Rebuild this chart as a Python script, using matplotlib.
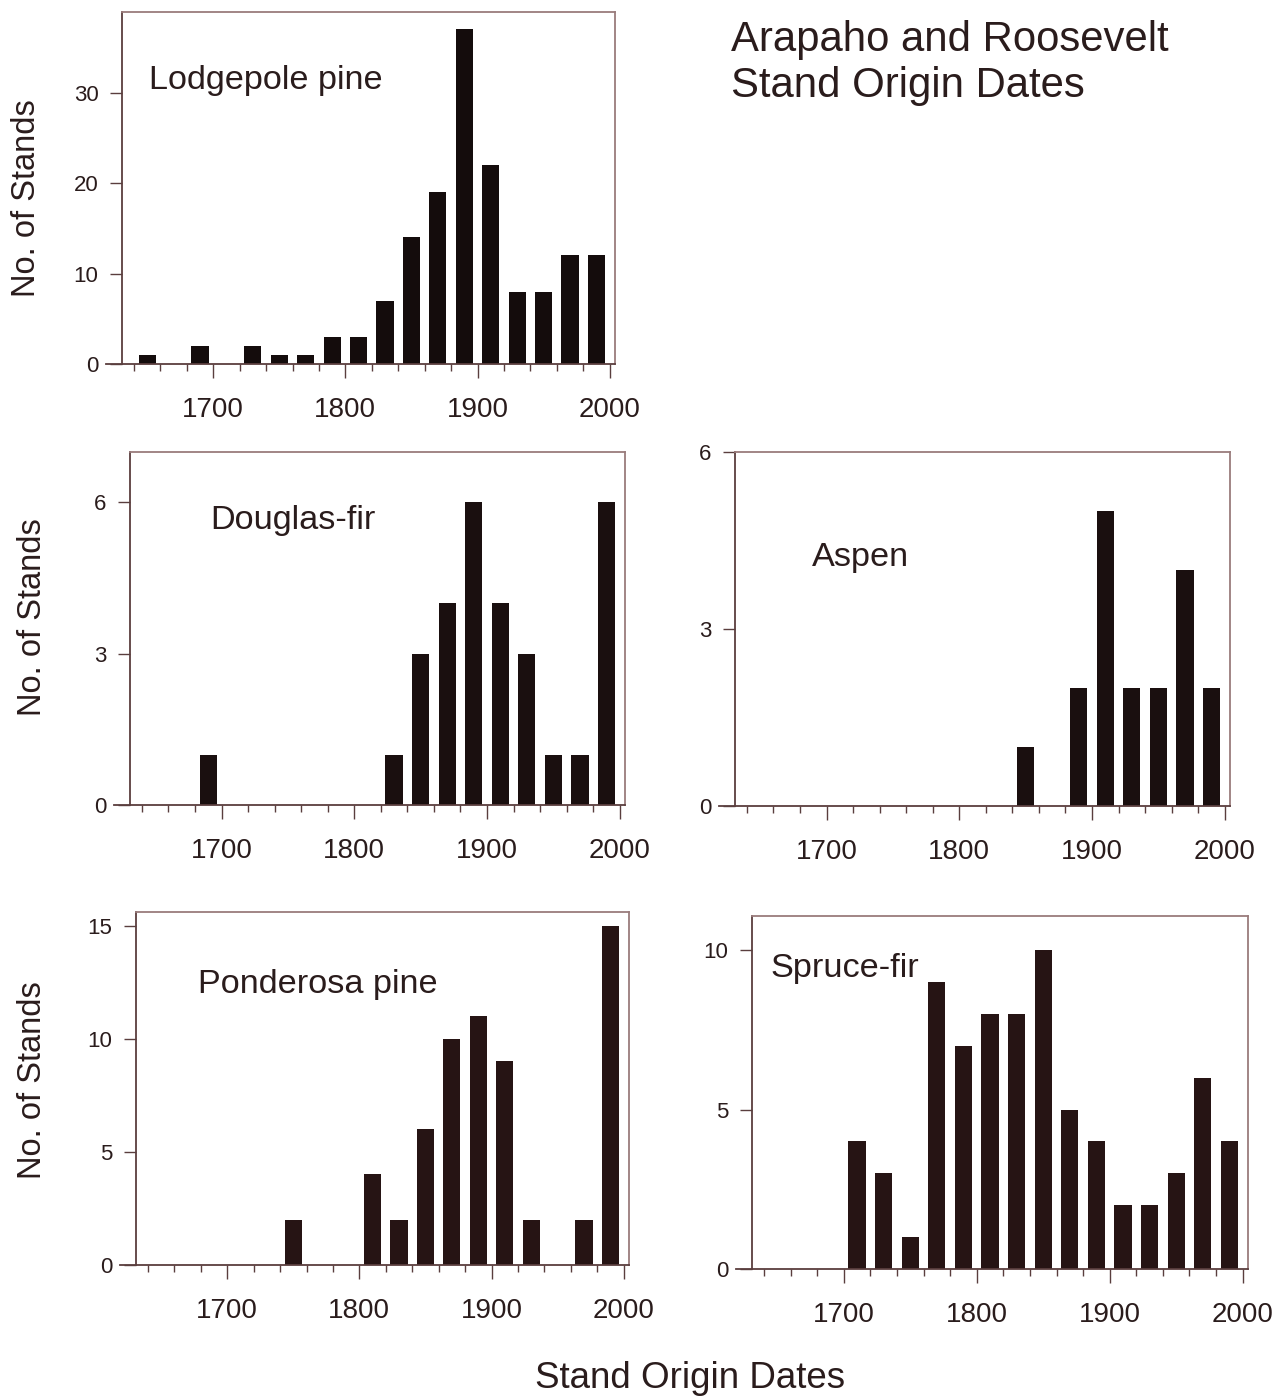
import matplotlib
matplotlib.use('Agg')
import matplotlib.pyplot as plt
from matplotlib.ticker import MultipleLocator

plt.rcParams['font.family'] = ['Liberation Sans', 'DejaVu Sans']

# bin centres (20-year classes) and counts for each forest type
lodgepole_years = [1650, 1690, 1730, 1750, 1770, 1790, 1810, 1830, 1850, 1870, 1890, 1910, 1930, 1950, 1970, 1990]
lodgepole_counts = [1, 2, 2, 1, 1, 3, 3, 7, 14, 19, 37, 22, 8, 8, 12, 12]

douglas_years = [1690, 1830, 1850, 1870, 1890, 1910, 1930, 1950, 1970, 1990]
douglas_counts = [1, 1, 3, 4, 6, 4, 3, 1, 1, 6]

aspen_years = [1850, 1890, 1910, 1930, 1950, 1970, 1990]
aspen_counts = [1, 2, 5, 2, 2, 4, 2]

ponderosa_years = [1750, 1810, 1830, 1850, 1870, 1890, 1910, 1930, 1970, 1990]
ponderosa_counts = [2, 4, 2, 6, 10, 11, 9, 2, 2, 15]

spruce_years = [1710, 1730, 1750, 1770, 1790, 1810, 1830, 1850, 1870, 1890, 1910, 1930, 1950, 1970, 1990]
spruce_counts = [4, 3, 1, 9, 7, 8, 8, 10, 5, 4, 2, 2, 3, 6, 4]

W, H = 1282, 1399
TXT = '#2a1c1c'
DARK = '#5a3e3e'
LIGHT = '#9a7c7c'

fig = plt.figure(figsize=(W / 100, H / 100), dpi=100)


def px_axes(left, right, top, bottom):
    return fig.add_axes([left / W, 1 - bottom / H, (right - left) / W, (bottom - top) / H])


def panel(ax, years, counts, ymax, ystep, color):
    ax.bar(years, counts, width=13, color=color, edgecolor='none')
    ax.set_xlim(1631, 2004)
    ax.set_ylim(0, ymax)
    ax.xaxis.set_major_locator(MultipleLocator(100))
    ax.xaxis.set_minor_locator(MultipleLocator(20))
    ax.yaxis.set_major_locator(MultipleLocator(ystep))
    ax.set_xticks([1700, 1800, 1900, 2000])
    ax.tick_params(axis='x', which='major', length=10, width=1, color=DARK,
                   labelsize=20, labelcolor=TXT, pad=14)
    ax.tick_params(axis='x', which='minor', length=5, width=1, color=DARK)
    ax.tick_params(axis='y', which='major', length=9, width=1, color=DARK,
                   labelsize=16, labelcolor=TXT, pad=8)
    for s in ['left', 'bottom']:
        ax.spines[s].set_color(DARK)
        ax.spines[s].set_linewidth(1.3)
    for s in ['top', 'right']:
        ax.spines[s].set_color(LIGHT)
        ax.spines[s].set_linewidth(1.3)
    ax.spines['bottom'].set_bounds(1619, 2004)


ax1 = px_axes(122, 615, 12, 364)
panel(ax1, lodgepole_years, lodgepole_counts, 38.9, 10, '#140c0c')

ax2 = px_axes(130, 625, 452, 805)
panel(ax2, douglas_years, douglas_counts, 7.0, 3, '#1a0f0f')

ax3 = px_axes(735, 1230, 452, 806)
panel(ax3, aspen_years, aspen_counts, 6.0, 3, '#1a0f0f')

ax4 = px_axes(136, 629, 912, 1265)
panel(ax4, ponderosa_years, ponderosa_counts, 15.6, 5, '#261414')

ax5 = px_axes(752, 1248, 916, 1269)
panel(ax5, spruce_years, spruce_counts, 11.07, 5, '#261414')


def ftext(x, y, s, **kw):
    fig.text(x / W, 1 - y / H, s, color=TXT, **kw)


ftext(149, 81, 'Lodgepole pine', fontsize=24.7, va='center')
ftext(210, 520, 'Douglas-fir', fontsize=24.7, va='center')
ftext(812, 557, 'Aspen', fontsize=24.7, va='center')
ftext(198, 985, 'Ponderosa pine', fontsize=24.7, va='center')
ftext(770, 968, 'Spruce-fir', fontsize=24.7, va='center')

ftext(731, 40, 'Arapaho and Roosevelt', fontsize=30.2, va='center')
ftext(731, 86, 'Stand Origin Dates', fontsize=30.2, va='center')

ftext(27, 198, 'No. of Stands', fontsize=23.5, rotation=90, va='center', ha='center')
ftext(33, 617, 'No. of Stands', fontsize=23.5, rotation=90, va='center', ha='center')
ftext(33, 1080, 'No. of Stands', fontsize=23.5, rotation=90, va='center', ha='center')

ftext(690, 1378, 'Stand Origin Dates', fontsize=26.5, va='center', ha='center')

fig.savefig('out.png', dpi=100)
